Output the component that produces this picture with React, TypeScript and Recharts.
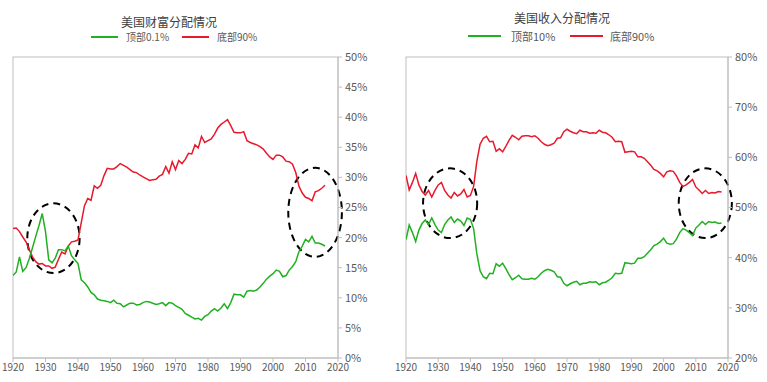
import React from 'react';
import { LineChart, Line, XAxis, YAxis, ReferenceArea } from 'recharts';

// ---------- categories ----------
const wealthYears = [
  1920, 1921, 1922, 1923, 1924, 1925, 1926, 1927, 1928, 1929,
  1930, 1931, 1932, 1933, 1934, 1935, 1936, 1937, 1938, 1939,
  1940, 1941, 1942, 1943, 1944, 1945, 1946, 1947, 1948, 1949,
  1950, 1951, 1952, 1953, 1954, 1955, 1956, 1957, 1958, 1959,
  1960, 1961, 1962, 1963, 1964, 1965, 1966, 1967, 1968, 1969,
  1970, 1971, 1972, 1973, 1974, 1975, 1976, 1977, 1978, 1979,
  1980, 1981, 1982, 1983, 1984, 1985, 1986, 1987, 1988, 1989,
  1990, 1991, 1992, 1993, 1994, 1995, 1996, 1997, 1998, 1999,
  2000, 2001, 2002, 2003, 2004, 2005, 2006, 2007, 2008, 2009,
  2010, 2011, 2012, 2013, 2014, 2015, 2016,
];

const incomeYears = [
  1920, 1921, 1922, 1923, 1924, 1925, 1926, 1927, 1928, 1929,
  1930, 1931, 1932, 1933, 1934, 1935, 1936, 1937, 1938, 1939,
  1940, 1941, 1942, 1943, 1944, 1945, 1946, 1947, 1948, 1949,
  1950, 1951, 1952, 1953, 1954, 1955, 1956, 1957, 1958, 1959,
  1960, 1961, 1962, 1963, 1964, 1965, 1966, 1967, 1968, 1969,
  1970, 1971, 1972, 1973, 1974, 1975, 1976, 1977, 1978, 1979,
  1980, 1981, 1982, 1983, 1984, 1985, 1986, 1987, 1988, 1989,
  1990, 1991, 1992, 1993, 1994, 1995, 1996, 1997, 1998, 1999,
  2000, 2001, 2002, 2003, 2004, 2005, 2006, 2007, 2008, 2009,
  2010, 2011, 2012, 2013, 2014, 2015, 2016, 2017, 2018,
];

// ---------- series: wealth (%) ----------
const wealthTop01 = [
  13.7, 14.3, 16.8, 14.4, 15.0, 16.5, 18.3, 20.2, 22.0, 24.0,
  21.0, 16.3, 15.8, 16.6, 18.0, 18.0, 17.8, 18.6, 17.0, 16.3,
  15.7, 13.0, 12.5, 11.8, 10.9, 10.5, 9.8, 9.6, 9.5, 9.4,
  9.2, 9.6, 9.1, 9.0, 8.5, 8.8, 9.1, 9.1, 8.8, 8.9,
  9.2, 9.4, 9.3, 9.1, 8.9, 9.0, 9.2, 8.7, 9.2, 9.1,
  8.7, 8.4, 8.1, 7.4, 7.1, 6.8, 6.5, 6.6, 6.3, 6.9,
  7.2, 7.8, 8.2, 7.8, 8.3, 9.0, 8.2, 9.2, 10.6, 10.5,
  10.5, 10.1, 11.1, 11.2, 11.1, 11.3, 11.8, 12.4, 13.1, 13.6,
  14.0, 14.6, 14.4, 13.5, 13.7, 14.6, 15.2, 16.0, 17.7, 18.6,
  19.7, 19.3, 20.2, 19.1, 19.1, 18.9, 18.6,
];

const wealthBottom90 = [
  21.5, 21.6, 21.0, 20.1, 19.3, 18.0, 16.8, 16.0, 15.6, 15.7,
  15.3, 15.3, 14.9, 15.1, 16.4, 17.6, 17.3, 18.6, 19.3, 19.4,
  19.6, 22.5, 25.3, 26.5, 26.2, 28.6, 28.2, 28.7, 30.3, 31.5,
  31.4, 31.4, 31.8, 32.3, 32.0, 31.7, 31.3, 30.9, 30.8, 30.4,
  30.1, 29.8, 29.5, 29.6, 29.7, 30.2, 30.5, 31.8, 30.7, 32.6,
  31.3, 32.8, 32.3, 33.0, 34.0, 33.9, 35.4, 34.9, 36.8, 35.8,
  36.1, 36.4, 37.2, 38.2, 38.8, 39.2, 39.6, 38.6, 37.5, 37.4,
  37.4, 37.6, 36.1, 35.8, 35.6, 35.4, 35.1, 34.7, 34.0, 33.4,
  33.0, 33.7, 33.7, 33.4, 32.7, 32.6, 32.2, 30.8, 28.5, 27.4,
  26.7, 26.5, 26.1, 27.6, 27.8, 28.2, 28.7,
];

// ---------- series: income (%) ----------
const incomeTop10 = [
  43.6, 46.5, 45.0, 43.2, 45.5, 46.8, 47.5, 46.6, 47.9, 46.6,
  45.5, 45.0, 46.6, 47.5, 48.1, 47.0, 47.7, 47.3, 46.4, 47.9,
  47.6, 45.8, 40.8, 37.4, 36.2, 35.8, 36.9, 36.8, 38.8, 38.3,
  38.9, 37.8, 36.6, 35.6, 36.0, 36.5, 35.8, 35.7, 35.7, 35.9,
  35.7, 36.2, 36.9, 37.4, 37.7, 37.5, 37.2, 36.2, 36.1, 34.9,
  34.4, 34.8, 35.1, 35.3, 34.6, 34.9, 34.9, 35.2, 35.1, 35.2,
  34.6, 35.0, 35.1, 35.5, 36.0, 36.9, 36.8, 36.9, 39.0, 38.9,
  38.8, 38.9, 39.9, 39.9, 40.2, 40.9, 41.6, 42.4, 42.7, 43.2,
  43.9, 42.9, 42.7, 42.8, 43.7, 45.0, 45.8, 45.5, 45.0, 44.4,
  45.9, 46.5, 47.2, 46.6, 47.2, 47.0, 47.1, 46.8, 46.9,
];

const incomeBottom90 = [
  56.4, 53.5, 55.0, 56.8, 54.5, 53.2, 52.5, 53.4, 52.1, 53.4,
  54.5, 55.0, 53.4, 52.5, 51.9, 53.0, 52.3, 52.7, 53.6, 52.1,
  52.4, 54.2, 59.2, 62.6, 63.8, 64.2, 63.1, 63.2, 61.2, 61.7,
  61.1, 62.2, 63.4, 64.4, 64.0, 63.5, 64.2, 64.3, 64.3, 64.1,
  64.3, 63.8, 63.1, 62.6, 62.3, 62.5, 62.8, 63.8, 63.9, 65.1,
  65.6, 65.2, 64.9, 64.7, 65.4, 65.1, 65.1, 64.8, 64.9, 64.8,
  65.4, 65.0, 64.9, 64.5, 64.0, 63.1, 63.2, 63.1, 61.0, 61.1,
  61.2, 61.1, 60.1, 60.1, 59.8, 59.1, 58.4, 57.6, 57.3, 56.8,
  56.1, 57.1, 57.3, 57.2, 56.3, 55.0, 54.2, 54.5, 55.0, 55.6,
  54.1, 53.5, 52.8, 53.4, 52.8, 53.0, 52.9, 53.2, 53.1,
];

// ---------- ticks ----------
const xTicks = [1920, 1930, 1940, 1950, 1960, 1970, 1980, 1990, 2000, 2010, 2020];
const wealthTicks = [0, 5, 10, 15, 20, 25, 30, 35, 40, 45, 50];
const incomeTicks = [20, 30, 40, 50, 60, 70, 80];

// ---------- annotation ellipses (data space) ----------
const wealthEllipses = [
  { x1: 1924.4, x2: 1940.5, y1: 14.1, y2: 25.7 },
  { x1: 2004.7, x2: 2021.2, y1: 16.8, y2: 31.6 },
];
const incomeEllipses = [
  { x1: 1925.3, x2: 1942.1, y1: 43.9, y2: 57.8 },
  { x1: 2004.7, x2: 2021.2, y1: 43.9, y2: 57.8 },
];

const GREEN = '#21b021';
const RED = '#e8192c';
const AXIS = '#bfbfbf';
const TEXT = '#595959';
const FONT = '"Noto Sans CJK SC", "Noto Sans", sans-serif';

const wealthRows = wealthYears.map((y, i) => ({ year: y, top: wealthTop01[i], bottom: wealthBottom90[i] }));
const incomeRows = incomeYears.map((y, i) => ({ year: y, top: incomeTop10[i], bottom: incomeBottom90[i] }));

const EllipseShape = (props: any) => {
  const { x, y, width, height } = props;
  const w = Math.abs(width);
  const h = Math.abs(height);
  const left = width < 0 ? x + width : x;
  const top = height < 0 ? y + height : y;
  return (
    <ellipse
      cx={left + w / 2}
      cy={top + h / 2}
      rx={w / 2}
      ry={h / 2}
      fill="none"
      stroke="#000"
      strokeWidth={2}
      strokeDasharray="7 5"
    />
  );
};

const FrameShape = (props: any) => {
  const { x, y, width, height } = props;
  return <rect x={x} y={y} width={width} height={height} fill="none" stroke={AXIS} strokeWidth={1} />;
};

type PanelProps = {
  rows: any[];
  yTicks: number[];
  yDomain: [number, number];
  ellipses: { x1: number; x2: number; y1: number; y2: number }[];
  left: number;
  width: number;
  marginLeft: number;
  yAxisWidth: number;
};

const Panel = ({ rows, yTicks, yDomain, ellipses, left, width, marginLeft, yAxisWidth }: PanelProps) => (
  <div style={{ position: 'absolute', left, top: 0 }}>
    <LineChart
      width={width}
      height={382}
      data={rows}
      margin={{ top: 57, right: 0, bottom: 0, left: marginLeft }}
    >
      <ReferenceArea
        x1={1920}
        x2={2020}
        y1={yDomain[0]}
        y2={yDomain[1]}
        shape={<FrameShape />}
        ifOverflow="visible"
      />
      <XAxis
        dataKey="year"
        type="number"
        domain={[1920, 2020]}
        ticks={xTicks}
        interval={0}
        height={24}
        stroke={AXIS}
        tickSize={4}
        tickMargin={2}
        tick={{ fill: TEXT, fontSize: 10, fontFamily: FONT }}
        allowDataOverflow
      />
      <YAxis
        orientation="right"
        type="number"
        domain={yDomain}
        ticks={yTicks}
        interval={0}
        width={yAxisWidth}
        stroke={AXIS}
        tickSize={4}
        tickMargin={3}
        tickFormatter={(v: number) => `${v}%`}
        tick={{ fill: TEXT, fontSize: 11, fontFamily: FONT }}
      />
      <Line dataKey="bottom" stroke={RED} strokeWidth={1.5} dot={false} isAnimationActive={false} />
      <Line dataKey="top" stroke={GREEN} strokeWidth={1.5} dot={false} isAnimationActive={false} />
      {ellipses.map((e, i) => (
        <ReferenceArea
          key={i}
          x1={e.x1}
          x2={e.x2}
          y1={e.y1}
          y2={e.y2}
          shape={<EllipseShape />}
          ifOverflow="visible"
        />
      ))}
    </LineChart>
  </div>
);

const Title = ({ text, cx, cy }: { text: string; cx: number; cy: number }) => (
  <div
    style={{
      position: 'absolute',
      left: cx - 100,
      top: cy - 9,
      width: 200,
      height: 18,
      lineHeight: '18px',
      textAlign: 'center',
      fontSize: 12,
      color: '#404040',
      fontFamily: FONT,
    }}
  >
    {text}
  </div>
);

const LegendItem = ({ x1, x2, tx, y, color, text, fs }: { x1: number; x2: number; tx: number; y: number; color: string; text: string; fs: number }) => (
  <>
    <div style={{ position: 'absolute', left: x1, top: y - 1, width: x2 - x1, height: 2, background: color }} />
    <div
      style={{
        position: 'absolute',
        left: tx,
        top: y - 8,
        height: 16,
        lineHeight: '16px',
        fontSize: fs,
        color: TEXT,
        fontFamily: FONT,
        whiteSpace: 'nowrap',
      }}
    >
      {text}
    </div>
  </>
);

export default function App() {
  return (
    <div style={{ position: 'absolute', left: 0, top: 0, width: 767, height: 382, background: '#fff', overflow: 'hidden' }}>
      <Panel
        rows={wealthRows}
        yTicks={wealthTicks}
        yDomain={[0, 50]}
        ellipses={wealthEllipses}
        left={0}
        width={383}
        marginLeft={13}
        yAxisWidth={45}
      />
      <Panel
        rows={incomeRows}
        yTicks={incomeTicks}
        yDomain={[20, 80]}
        ellipses={incomeEllipses}
        left={385}
        width={382}
        marginLeft={21}
        yAxisWidth={39}
      />
      <Title text="美国财富分配情况" cx={169} cy={22} />
      <LegendItem x1={91} x2={118} tx={126} y={37} color={GREEN} text="顶部0.1%" fs={10} />
      <LegendItem x1={182} x2={209} tx={217} y={37} color={RED} text="底部90%" fs={10} />
      <Title text="美国收入分配情况" cx={562} cy={18} />
      <LegendItem x1={468} x2={501} tx={511} y={36} color={GREEN} text="顶部10%" fs={11} />
      <LegendItem x1={570} x2={603} tx={610} y={36} color={RED} text="底部90%" fs={11} />
    </div>
  );
}
